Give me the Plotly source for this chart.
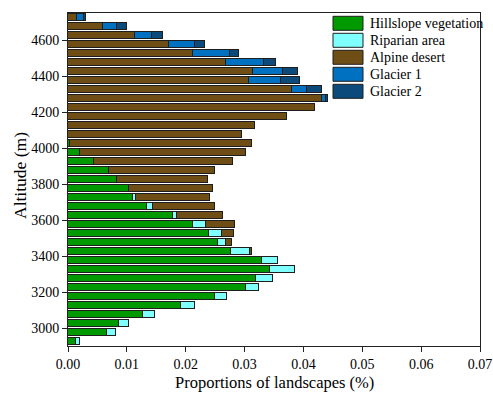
import plotly.graph_objects as go

# Altitude bin centres (m), 50 m bins from top to bottom
altitude = [4725, 4675, 4625, 4575, 4525, 4475, 4425, 4375, 4325, 4275,
            4225, 4175, 4125, 4075, 4025, 3975, 3925, 3875, 3825, 3775,
            3725, 3675, 3625, 3575, 3525, 3475, 3425, 3375, 3325, 3275,
            3225, 3175, 3125, 3075, 3025, 2975, 2925]

hillslope_vegetation = [0, 0, 0, 0, 0, 0, 0, 0, 0, 0,
                        0, 0, 0, 0, 0.0004, 0.0020, 0.0044, 0.0069, 0.0084, 0.0104,
                        0.0110, 0.0135, 0.0178, 0.0212, 0.0240, 0.0255, 0.0277, 0.0329, 0.0343, 0.0320,
                        0.0302, 0.0249, 0.0192, 0.0128, 0.0086, 0.0066, 0.0014]

riparian_area = [0, 0, 0, 0, 0, 0, 0, 0, 0, 0,
                 0, 0, 0, 0, 0, 0, 0, 0, 0, 0,
                 0.0005, 0.0009, 0.0007, 0.0023, 0.0021, 0.0014, 0.0032, 0.0027, 0.0042, 0.0029,
                 0.0022, 0.0021, 0.0024, 0.0019, 0.0018, 0.0015, 0.0006]

alpine_desert = [0.0015, 0.0059, 0.0113, 0.0171, 0.0212, 0.0268, 0.0314, 0.0307, 0.0380, 0.0432,
                 0.0419, 0.0372, 0.0317, 0.0296, 0.0308, 0.0283, 0.0237, 0.0180, 0.0154, 0.0142,
                 0.0127, 0.0106, 0.0079, 0.0049, 0.0021, 0.0010, 0.0003, 0, 0, 0,
                 0, 0, 0, 0, 0, 0, 0]

glacier_1 = [0.0012, 0.0024, 0.0030, 0.0044, 0.0063, 0.0065, 0.0052, 0.0055, 0.0026, 0.0007,
             0, 0, 0, 0, 0, 0, 0, 0, 0, 0,
             0, 0, 0, 0, 0, 0, 0, 0, 0, 0,
             0, 0, 0, 0, 0, 0, 0]

glacier_2 = [0.0004, 0.0018, 0.0018, 0.0018, 0.0015, 0.0021, 0.0024, 0.0032, 0.0025, 0.0003,
             0, 0, 0, 0, 0, 0, 0, 0, 0, 0,
             0, 0, 0, 0, 0, 0, 0, 0, 0, 0,
             0, 0, 0, 0, 0, 0, 0]

series_names = ["Hillslope vegetation", "Riparian area", "Alpine desert", "Glacier 1", "Glacier 2"]
series_values = [hillslope_vegetation, riparian_area, alpine_desert, glacier_1, glacier_2]
series_colors = ["#009a00", "#80ffff", "#6e4e14", "#0070c0", "#0b4a7a"]

x_ticks = [0.00, 0.01, 0.02, 0.03, 0.04, 0.05, 0.06, 0.07]
y_ticks = [3000, 3200, 3400, 3600, 3800, 4000, 4200, 4400, 4600]

FONT = "Liberation Serif, Times New Roman, serif"
OUTLINE = "#1e1e1e"

# Plot area in pixels (page is 493 x 400)
W, H = 493, 400
ML, MR, MT, MB = 68, 13, 13, 54
PW, PH = W - ML - MR, H - MT - MB


def px_x(px):
    return (px - ML) / PW


def px_y(py):
    return (H - MB - py) / PH


fig = go.Figure()
for name, vals, color in zip(series_names, series_values, series_colors):
    fig.add_trace(go.Bar(
        y=altitude,
        x=[v if v > 0 else None for v in vals],
        orientation="h",
        name=name,
        width=42,
        marker=dict(color=color, line=dict(color=OUTLINE, width=1)),
        showlegend=False,
    ))

# Legend drawn as swatches and labels in the upper right corner
shapes = []
annotations = []
sw_x0, sw_x1 = 333, 363
for i, (name, color) in enumerate(zip(series_names, series_colors)):
    cy = 23.3 + i * 17.0
    shapes.append(dict(
        type="rect", xref="paper", yref="paper",
        x0=px_x(sw_x0), x1=px_x(sw_x1), y0=px_y(cy + 7), y1=px_y(cy - 7),
        fillcolor=color, line=dict(color=OUTLINE, width=1),
    ))
    annotations.append(dict(
        xref="paper", yref="paper", x=px_x(368), y=px_y(cy),
        xanchor="left", yanchor="middle", showarrow=False,
        text=name, font=dict(family=FONT, size=14, color="black"),
    ))

# Axis titles
annotations.append(dict(
    xref="paper", yref="paper", x=px_x(20), y=px_y(176),
    xanchor="center", yanchor="middle", showarrow=False, textangle=-90,
    text="Altitude (m)", font=dict(family=FONT, size=17.5, color="black"),
))
annotations.append(dict(
    xref="paper", yref="paper", x=0.5, y=px_y(382),
    xanchor="center", yanchor="middle", showarrow=False,
    text="Proportions of landscapes (%)", font=dict(family=FONT, size=16.5, color="black"),
))

fig.update_layout(
    width=W, height=H,
    margin=dict(l=ML, r=MR, t=MT, b=MB, pad=0, autoexpand=False),
    barmode="stack",
    bargap=0,
    plot_bgcolor="white",
    paper_bgcolor="white",
    font=dict(family=FONT, size=14, color="black"),
    shapes=shapes,
    annotations=annotations,
)
fig.update_xaxes(
    range=[0, 0.07], tickvals=x_ticks, tickformat=".2f",
    ticks="outside", ticklen=5, tickcolor="#222", tickwidth=1,
    showline=True, linecolor="#222", linewidth=1, mirror=True,
    showgrid=False, zeroline=False, automargin=False,
    tickfont=dict(family=FONT, size=14, color="black"),
)
fig.update_yaxes(
    range=[2900, 4750], tickvals=y_ticks,
    ticks="outside", ticklen=5, tickcolor="#222", tickwidth=1,
    showline=True, linecolor="#222", linewidth=1, mirror=True,
    showgrid=False, zeroline=False, automargin=False,
    tickfont=dict(family=FONT, size=14, color="black"),
)

fig.write_html("out.html")
